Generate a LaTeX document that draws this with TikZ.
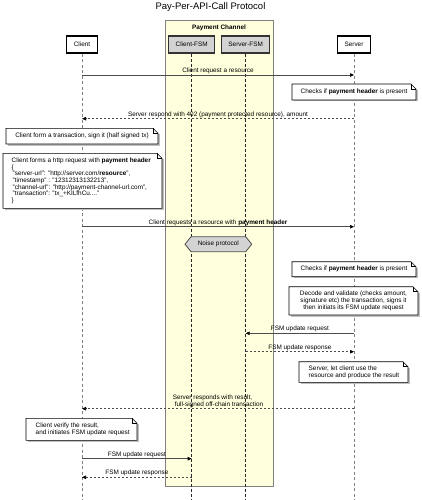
\documentclass[tikz,border=0pt]{standalone}
\usepackage{fontspec}
\setmainfont{Liberation Sans}
\usetikzlibrary{arrows.meta}
\definecolor{pcfill}{RGB}{255,255,221}
\definecolor{fsmfill}{RGB}{211,211,211}
\newcommand\mynote[5]{%
  \fill[black!25] ({#2+1.5},{#3+6}) rectangle ({#4+1.5},{#5+1.5});
  \draw[fill=white, line width=0.6pt, line join=miter] (#2,#3) -- ({#4-5},#3) -- (#4,{#3+5}) -- (#4,#5) -- (#2,#5) -- cycle;
  \draw[line width=0.6pt] ({#4-5},#3) -- ({#4-5},{#3+5}) -- (#4,{#3+5});
}
\begin{document}
\begin{tikzpicture}[x=1pt,y=-1pt,
  font=\fontsize{6.4}{6.7}\selectfont,
  actor/.style={draw=black, line width=1.2pt, fill=white, minimum height=17pt, inner sep=1pt},
  fsm/.style={actor, fill=fsmfill, draw=black!80},
  life/.style={draw=black!50, line width=0.9pt, dash pattern=on 3pt off 2.5pt},
  fsmlife/.style={draw=black!85, line width=0.6pt, dash pattern=on 3pt off 2pt},
  msg/.style={draw=black!70, line width=0.7pt, -{Triangle[length=4pt,width=3.5pt,color=black]}},
  reply/.style={msg, dash pattern=on 2pt off 2pt},
  lbl/.style={above, inner sep=1pt, text=black},
  notetext/.style={inner sep=0pt, text=black}]
\useasboundingbox (0,0) rectangle (421,500);

\node (title) at (210.5,7) {\fontsize{9.5}{11}\selectfont Pay-Per-API-Call Protocol};

\node[draw=black!50, fill=pcfill, line width=0.9pt, minimum width=108pt, minimum height=465.3pt, inner sep=0pt] (pc) at (219,253.3) {};
\node (pctitle) at (219,27.5) {\textbf{Payment Channel}};

\node[actor, minimum width=31pt] (client) at (82,44.5) {Client};
\node[fsm, minimum width=46pt] (cfsm) at (191.7,44.5) {Client-FSM};
\node[fsm, minimum width=48pt] (sfsm) at (245.7,44.5) {Server-FSM};
\node[actor, minimum width=33pt] (server) at (354,44.5) {Server};

\draw[life] (client.south) -- (client.south |- 0,500);
\draw[fsmlife] (cfsm.south) -- (cfsm.south |- 0,500);
\draw[fsmlife] (sfsm.south) -- (sfsm.south |- 0,500);
\draw[life] (server.south) -- (server.south |- 0,500);

% messages
\draw[msg] (client |- 0,75) -- node[lbl] (l1) {Client request a resource} (server |- 0,75);
\mynote{n1}{292}{84}{416}{100}
\node[notetext] (n1) at (354,92) {Checks if \textbf{payment header} is present};
\draw[reply] (server |- 0,118.7) -- node[lbl] (l2) {Server respond with 402 (payment protected resource), amount} (client |- 0,118.7);
\mynote{n2}{6}{128.3}{158}{144}
\node[notetext] (n2) at (82,136.2) {Client form a transaction, sign it (half signed tx)};
\mynote{n3}{3}{153.3}{162}{208.3}
\node[notetext, anchor=west, align=left] (n3) at (11.5,180.8) {Client forms a http request with \textbf{payment header}\\
\{\\
\hspace{1pt}"server-url": "http://server.com/\textbf{resource}",\\
\hspace{1pt}"timestamp" : "12312313132213",\\
\hspace{1pt}"channel-url": "http://payment-channel-url.com",\\
\hspace{1pt}"transaction": "tx\_+KILfhCu...."\\
\}};
\draw[msg] (client |- 0,226.7) -- node[lbl] (l3) {Client requests a resource with \textbf{payment header}} (server |- 0,226.7);

\draw[fill=fsmfill, draw=black!70, line width=0.8pt] (185,244.2) -- (191,236.7) -- (245.7,236.7) -- (251.7,244.2) -- (245.7,251.7) -- (191,251.7) -- cycle;
\node[notetext] (noise) at (218.3,244.2) {Noise protocol};

\mynote{n4}{292}{261.7}{416}{276.7}
\node[notetext] (n4) at (354,269.2) {Checks if \textbf{payment header} is present};
\mynote{n5}{289}{286.7}{418}{315}
\node[notetext, align=center] (n5) at (353.5,300.8) {Decode and validate (checks amount,\\ signature etc) the transaction, signs it\\ then initiats its FSM update request};
\draw[msg] (server |- 0,333.3) -- node[lbl] (l4) {FSM update request} (sfsm |- 0,333.3);
\draw[reply] (sfsm |- 0,351.7) -- node[lbl] (l5) {FSM update response} (server |- 0,351.7);
\mynote{n6}{299}{361.7}{408}{382.3}
\node[notetext, anchor=west, align=left] (n6) at (308.5,372) {Server, let client use the\\resource and produce the result};
\draw[reply] (server |- 0,408.7) -- node[lbl, align=left] (l6) {Server responds with result,\\\hspace{2pt}full-signed off-chain transaction} (client |- 0,408.7);
\mynote{n7}{26}{418.3}{137}{440.3}
\node[notetext, anchor=west, align=left] (n7) at (35.5,429.3) {Client verify the result,\\and initiates FSM update request};
\draw[msg] (client |- 0,458.7) -- node[lbl] (l7) {FSM update request} (cfsm |- 0,458.7);
\draw[reply] (cfsm |- 0,477.3) -- node[lbl] (l8) {FSM update response} (client |- 0,477.3);
\end{tikzpicture}
\end{document}
